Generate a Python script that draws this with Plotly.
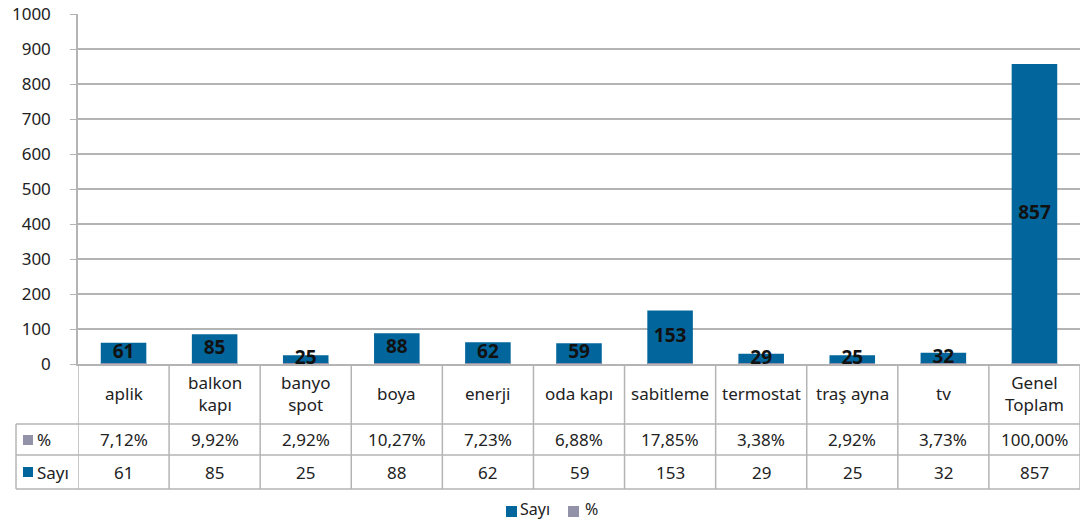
import plotly.graph_objects as go

categories = ["aplik", "balkon kapı", "banyo spot", "boya", "enerji", "oda kapı",
              "sabitleme", "termostat", "traş ayna", "tv", "Genel Toplam"]
cat_labels = ["aplik", "balkon<br>kapı", "banyo<br>spot", "boya", "enerji", "oda kapı",
              "sabitleme", "termostat", "traş ayna", "tv", "Genel<br>Toplam"]
sayi = [61, 85, 25, 88, 62, 59, 153, 29, 25, 32, 857]
yuzde = [7.12, 9.92, 2.92, 10.27, 7.23, 6.88, 17.85, 3.38, 2.92, 3.73, 100.00]
y_ticks = [0, 100, 200, 300, 400, 500, 600, 700, 800, 900, 1000]

BLUE = "#02659B"
GRAY = "#9292A8"
LINE = "#B4B4B4"
TXT = "#222222"
FONT = "Noto Sans"
FS = 17

W, H = 1081, 522
ML, MR, MT, MB = 78, 1, 14, 158
ph = H - MT - MB
pw = W - ML - MR

def py(px):
    return (H - MB - px) / ph

def pxx(px):
    return (px - ML) / pw

n = len(categories)
idx = list(range(n))

fig = go.Figure()
fig.add_trace(go.Bar(x=idx, y=sayi, name="Sayı", marker=dict(color=BLUE, line=dict(width=0)),
                     width=0.5, hoverinfo="skip"))
fig.add_trace(go.Bar(x=idx, y=[v / 100 for v in yuzde], name="%", marker=dict(color=GRAY, line=dict(width=0)),
                     width=0.5, hoverinfo="skip"))
fig.add_trace(go.Scatter(x=idx, y=[v / 2 for v in sayi], mode="text", text=[str(v) for v in sayi],
                         textfont=dict(family=FONT, size=19, color="#111111", weight="bold"),
                         showlegend=False, hoverinfo="skip"))

shapes = []
y_axis = py(364)
y_r1 = py(424)
y_r2 = py(455)
y_r3 = py(489)
x_left = pxx(16)

for i in range(n + 1):
    shapes.append(dict(type="line", xref="x", yref="paper", x0=i - 0.5, x1=i - 0.5,
                       y0=y_axis, y1=y_r3, line=dict(color=LINE, width=1.5)))
for yy in (y_r1, y_r2, y_r3):
    shapes.append(dict(type="line", xref="paper", yref="paper", x0=x_left, x1=1,
                       y0=yy, y1=yy, line=dict(color=LINE, width=1.5)))
shapes.append(dict(type="line", xref="paper", yref="paper", x0=x_left, x1=x_left,
                   y0=y_r1, y1=y_r3, line=dict(color=LINE, width=1.5)))

def square(x0px, y0px, color, size=10):
    shapes.append(dict(type="rect", xref="paper", yref="paper", x0=pxx(x0px), x1=pxx(x0px + size),
                       y0=py(y0px), y1=py(y0px + size), fillcolor=color, line=dict(width=0)))

annotations = []
def ann(x, y, text, xref="x", xanchor="center", size=FS, yanchor="middle"):
    annotations.append(dict(x=x, y=y, xref=xref, yref="paper", text=text, showarrow=False,
                            xanchor=xanchor, yanchor=yanchor, borderpad=0,
                            font=dict(family=FONT, size=size, color=TXT)))

for i in idx:
    ann(i, (y_axis + y_r1) / 2, cat_labels[i])
    ann(i, (y_r1 + y_r2) / 2, f"{yuzde[i]:.2f}".replace(".", ",") + "%")
    ann(i, (y_r2 + y_r3) / 2, str(sayi[i]))

# row header keys
square(23, 435, GRAY)
ann(pxx(36), (y_r1 + y_r2) / 2, "%", xref="paper", xanchor="left")
square(23, 467, BLUE)
ann(pxx(36), (y_r2 + y_r3) / 2, "Sayı", xref="paper", xanchor="left")

# legend
square(506, 506, BLUE, 11)
ann(pxx(519), py(521), "Sayı", xref="paper", xanchor="left", size=16, yanchor="bottom")
square(568, 506, GRAY, 11)
ann(pxx(584), py(521), "%", xref="paper", xanchor="left", size=16, yanchor="bottom")

fig.update_layout(
    width=W, height=H,
    margin=dict(l=ML, r=MR, t=MT, b=MB, autoexpand=False),
    plot_bgcolor="white", paper_bgcolor="white",
    barmode="overlay",
    showlegend=False,
    xaxis=dict(range=[-0.5, n - 0.5], showticklabels=False, showgrid=False, zeroline=False,
               showline=True, linecolor=LINE, linewidth=1.5, fixedrange=True),
    yaxis=dict(range=[0, 1000], tickvals=y_ticks, showgrid=True, gridcolor=LINE, gridwidth=1.5,
               zeroline=False, showline=True, linecolor=LINE, linewidth=1.5,
               ticks="outside", ticklen=6, tickcolor=LINE,
               tickfont=dict(family=FONT, size=FS, color=TXT), ticklabelstandoff=16),
    shapes=shapes, annotations=annotations,
)

fig.write_html("out.html", config={"displayModeBar": False},
               post_script="document.body.style.margin='0';document.body.style.padding='0';window.dispatchEvent(new Event('resize'));")
